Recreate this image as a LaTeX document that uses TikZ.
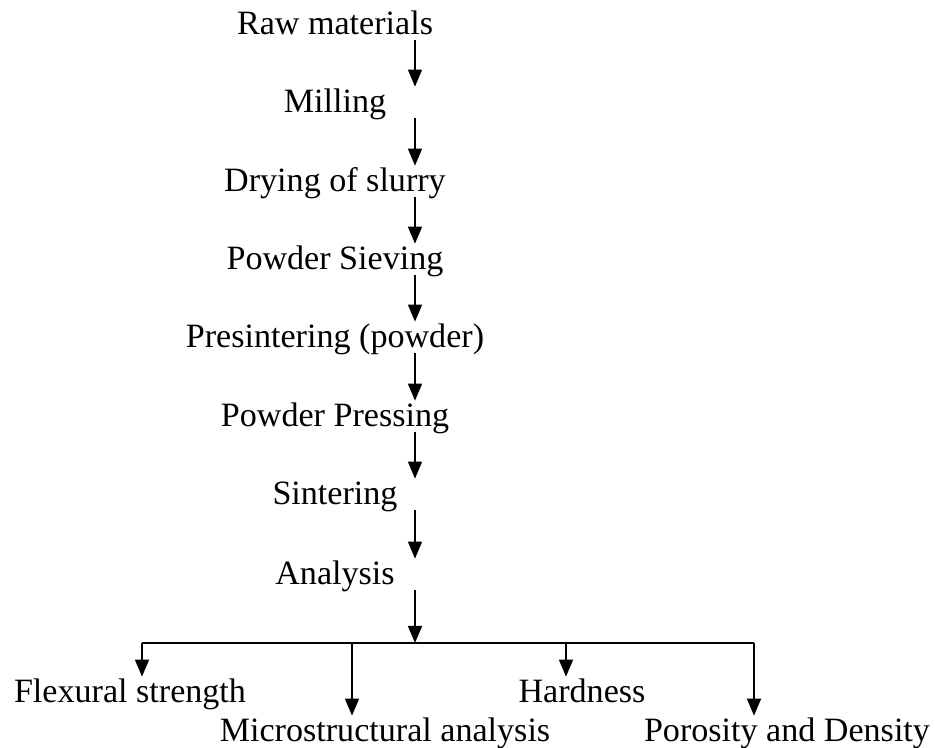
\documentclass[tikz,border=0pt]{standalone}
\usepackage{fontspec}
\setmainfont{Liberation Serif}
\usepackage{tikz}
\usetikzlibrary{arrows.meta}
\tikzset{
  stepbox/.style  = {font=\fontsize{19.4}{23}\selectfont, anchor=base, text height=0.42cm, text depth=0pt, inner xsep=0pt, inner ysep=0.1cm},
  arrowto/.style  = {-{Triangle[length=3.4mm,width=2.8mm]}, draw=black, line width=0.9pt},
  barline/.style  = {draw=black, line width=0.9pt},
}

\begin{document}
\begin{tikzpicture}[x=1cm,y=1cm]
  \useasboundingbox (0,0) rectangle (18.7,14.96);

  % process chain
  \foreach \n/\t/\y in {%
    raw/{Raw materials}/14.26,
    mill/{Milling}/12.70,
    dry/{Drying of slurry}/11.12,
    sieve/{Powder Sieving}/9.56,
    presint/{Presintering (powder)}/8.00,
    press/{Powder Pressing}/6.42,
    sinter/{Sintering}/4.86,
    analysis/{Analysis}/3.26}
  {
    \node[stepbox] (\n) at (6.70,\y) {\t};
  }
  \coordinate (spine) at (8.30,0);
  \foreach \a/\b in {raw/mill, mill/dry, dry/sieve, sieve/presint, presint/press, press/sinter, sinter/analysis} {
    \draw[arrowto] (\a.south -| spine) -- (\b.north -| spine);
  }

  % analysis branches
  \node[stepbox] (flex)  at (2.60,0.90)  {Flexural strength};
  \node[stepbox] (micro) at (7.70,0.12)  {Microstructural analysis};
  \node[stepbox] (hard)  at (11.64,0.90) {Hardness};
  \node[stepbox] (poro)  at (15.74,0.12) {Porosity and Density};

  \coordinate (hub) at (8.30,2.10);
  \foreach \c/\x in {b1/2.84, b2/7.04, b3/11.32, b4/15.08} {
    \coordinate (\c) at (\x,2.10);
  }
  \draw[arrowto] (analysis.south -| spine) -- (hub);
  \draw[barline] (b1) -- (b4);
  \foreach \c/\n in {b1/flex, b2/micro, b3/hard, b4/poro} {
    \draw[arrowto] (\c) -- (\n.north -| \c);
  }
\end{tikzpicture}
\end{document}
